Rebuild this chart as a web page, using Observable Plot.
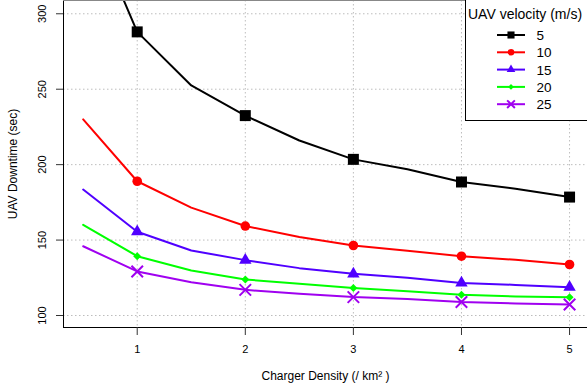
<!DOCTYPE html>
<html><head><meta charset="utf-8">
<script src="https://cdn.jsdelivr.net/npm/d3@7"></script>
<script src="https://cdn.jsdelivr.net/npm/@observablehq/plot@0.6"></script>
<style>
html,body{margin:0;padding:0;background:#fff;overflow:hidden}
#wrap{position:relative;width:587px;height:389px;font-family:"Liberation Sans",Arial,Helvetica,sans-serif}
#wrap svg{position:absolute;left:0;top:0}
</style></head><body><div id="wrap"></div>
<script>
// ---- data ----
const chargerDensity = [0.5, 1, 1.5, 2, 2.5, 3, 3.5, 4, 4.5, 5];
const velocities = ["5", "10", "15", "20", "25"];
const downtime5  = [372, 288, 252.5, 232.5, 216, 203.5, 197, 188.5, 184, 178.5];
const downtime10 = [230, 189, 171.5, 159.3, 152, 146.4, 143, 139.3, 136.9, 133.8];
const downtime15 = [183.5, 155.5, 143.1, 136.7, 131.4, 127.6, 125, 121.6, 120.3, 118.8];
const downtime20 = [160.1, 139.3, 129.8, 123.9, 121, 118.3, 116.1, 113.8, 112.6, 112.1];
const downtime25 = [145.9, 129.2, 122, 117, 114.4, 112.2, 110.9, 109, 108, 107.3];
const xTicks = [1, 2, 3, 4, 5];
const yTicks = [100, 150, 200, 250, 300];
const xLabel = "Charger Density (/ km\u00B2 )";
const yLabel = "UAV Downtime (sec)";
const legendTitle = "UAV velocity (m/s)";

// ---- styles ----
const series = [downtime5, downtime10, downtime15, downtime20, downtime25];
const colors = ["#000000", "#FF0000", "#5000FF", "#00FF00", "#A000F0"];
const symbols = ["square", "circle", "triangle", "diamond2", "times"];
const markerR = [6.2, 4.8, 4.6, 3.6, 5.3];
const legendR = [4, 3.3, 3.2, 2.6, 3.6];
const FONT = '"Liberation Sans", Arial, Helvetica, sans-serif';

const rows = [];
velocities.forEach((v, i) => series[i].forEach((y, j) => rows.push({velocity: v, idx: i, x: chargerDensity[j], y})));
const markerRows = rows.filter(d => Number.isInteger(d.x));

const W = 587, H = 389;
const xDomain = [0.318, 5.166];
const yDomain = [92.05, 308.8];

const plot = Plot.plot({
  width: W, height: H,
  marginLeft: 63, marginRight: 0, marginTop: 0, marginBottom: 62,
  style: {fontFamily: FONT, fontSize: "11px", background: "white", color: "#000"},
  x: {domain: xDomain},
  y: {domain: yDomain},
  marks: [
    Plot.gridX(xTicks, {stroke: "#bdbdbd", strokeOpacity: 1, strokeDasharray: "1.5,2.5"}),
    Plot.gridY(yTicks, {stroke: "#bdbdbd", strokeOpacity: 1, strokeDasharray: "1.5,2.5"}),
    ...velocities.map((v, i) => Plot.line(rows.filter(d => d.idx === i), {
      x: "x", y: "y", stroke: colors[i], strokeWidth: 2, clip: true
    })),
    ...velocities.map((v, i) => Plot.dot(markerRows.filter(d => d.idx === i), {
      x: "x", y: "y", symbol: symbols[i], r: markerR[i],
      fill: symbols[i] === "times" ? "none" : colors[i],
      stroke: symbols[i] === "times" ? colors[i] : "none",
      strokeWidth: 2, clip: true
    })),
    Plot.ruleX([xDomain[0]], {stroke: "#000", strokeWidth: 1}),
    Plot.ruleY([yDomain[0]], {stroke: "#000", strokeWidth: 1}),
    Plot.ruleY([yDomain[1]], {stroke: "#888", strokeWidth: 1}),
    Plot.axisX(xTicks, {tickSize: 8, tickPadding: 10, fontSize: 11, label: null, stroke: "#333"}),
    Plot.axisY(yTicks, {tickSize: 7, tickFormat: () => "", label: null, stroke: "#333"}),
    Plot.text(yTicks, {y: d => d, text: d => String(d), frameAnchor: "left", dx: -21, rotate: -90,
      textAnchor: "middle", lineAnchor: "middle", fontSize: 11, fill: "#000"}),
    Plot.text([xLabel], {text: d => d, frameAnchor: "bottom", dy: 49, fontSize: 12, lineAnchor: "middle"}),
    Plot.text([yLabel], {text: d => d, frameAnchor: "left", dx: -50, rotate: -90, fontSize: 12,
      textAnchor: "middle", lineAnchor: "middle"})
  ]
});
document.getElementById("wrap").appendChild(plot);

// ---- legend ----
const leg = d3.select("#wrap").append("svg").attr("width", W).attr("height", H)
  .style("pointer-events", "none").style("font-family", FONT);
leg.append("rect").attr("x", 465.5).attr("y", -2).attr("width", 140).attr("height", 122.5)
  .attr("fill", "white").attr("stroke", "#000");
leg.append("text").attr("x", 468).attr("y", 18.5).attr("font-size", 14).text(legendTitle);
const d3sym = {square: d3.symbolSquare, circle: d3.symbolCircle, triangle: d3.symbolTriangle,
  diamond2: d3.symbolDiamond2, times: d3.symbolTimes};
velocities.forEach((v, i) => {
  const cy = 35 + i * 17.3;
  const g = leg.append("g");
  g.append("line").attr("x1", 497).attr("x2", 525).attr("y1", cy).attr("y2", cy)
    .attr("stroke", colors[i]).attr("stroke-width", 2);
  g.append("path").attr("transform", `translate(511,${cy})`)
    .attr("d", d3.symbol(d3sym[symbols[i]], Math.PI * legendR[i] * legendR[i])())
    .attr("fill", symbols[i] === "times" ? "none" : colors[i])
    .attr("stroke", symbols[i] === "times" ? colors[i] : "none")
    .attr("stroke-width", 2);
  g.append("text").attr("x", 536.5).attr("y", cy + 5).attr("font-size", 13.5).text(v);
});
</script></body></html>
